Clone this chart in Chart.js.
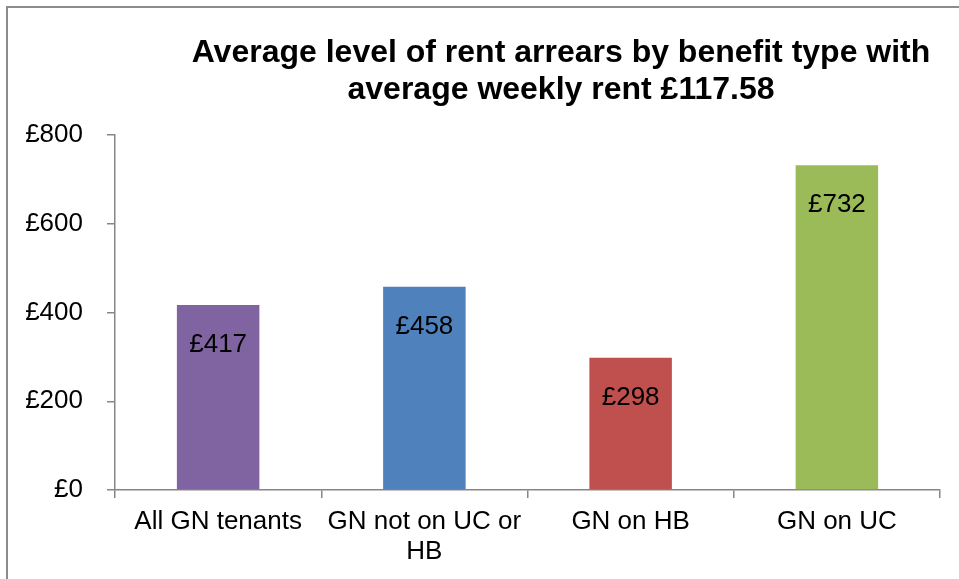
<!DOCTYPE html>
<html>
<head>
<meta charset="utf-8">
<script src="https://cdn.jsdelivr.net/npm/chart.js@4"></script>
<style>
  html, body { margin: 0; padding: 0; background: #fff; }
  #wrap { position: relative; width: 959px; height: 579px; overflow: hidden; }
  #frame { position: absolute; left: 6px; top: 6px; width: 1000px; height: 1000px; border-left: 2px solid #8c8c8c; border-top: 2px solid #8c8c8c; box-sizing: border-box; }
  #title { position: absolute; left: 161px; width: 800px; top: 33px; text-align: center; font: bold 32px "Liberation Sans", Arial, sans-serif; line-height: 37px; color: #000; white-space: nowrap; }
  canvas { position: absolute; left: 0; top: 0; }
</style>
</head>
<body>
<div id="wrap">
  <div id="frame"></div>
  <canvas id="c" width="959" height="579"></canvas>
  <div id="title">Average level of rent arrears by benefit type with<br>average weekly rent £117.58</div>
</div>
<script>
const categories = ['All GN tenants', ['GN not on UC or', 'HB'], 'GN on HB', 'GN on UC'];
const arrears = [417, 458, 298, 732];
const barColors = ['#8064A2', '#4F81BD', '#C0504D', '#9BBB59'];
const yTicks = [0, 200, 400, 600, 800];

const FONT = '"Liberation Sans", Arial, sans-serif';
const axisColor = '#868686';

const valueLabels = {
  id: 'valueLabels',
  afterDatasetsDraw(chart) {
    const ctx = chart.ctx;
    const meta = chart.getDatasetMeta(0);
    ctx.save();
    ctx.font = '26px ' + FONT;
    ctx.fillStyle = '#000';
    ctx.textAlign = 'center';
    ctx.textBaseline = 'middle';
    meta.data.forEach((bar, i) => {
      ctx.fillText('£' + arrears[i], bar.x, bar.y + 40);
    });
    ctx.restore();
  }
};

new Chart(document.getElementById('c'), {
  type: 'bar',
  data: {
    labels: categories,
    datasets: [{
      data: arrears,
      backgroundColor: barColors,
      borderWidth: 0,
      barPercentage: 0.5,
      categoryPercentage: 0.8
    }]
  },
  options: {
    responsive: false,
    animation: false,
    layout: { padding: { top: 135, right: 19, left: 0, bottom: 0 } },
    plugins: { legend: { display: false }, title: { display: false }, tooltip: { enabled: false } },
    scales: {
      x: {
        grid: { display: true, drawOnChartArea: false, drawTicks: true, tickLength: 8, color: axisColor, lineWidth: 1.5, offset: true },
        border: { display: true, color: axisColor, width: 1.5 },
        ticks: { color: '#000', font: { family: FONT, size: 26, lineHeight: 1.15 }, padding: 9, maxRotation: 0, autoSkip: false },
        afterFit(scale) { scale.height = 89; }
      },
      y: {
        min: 0, max: 800,
        afterBuildTicks(scale) { scale.ticks = yTicks.map(v => ({ value: v })); },
        grid: { display: true, drawOnChartArea: false, drawTicks: true, tickLength: 8, color: axisColor, lineWidth: 1.5 },
        border: { display: true, color: axisColor, width: 1.5 },
        ticks: { color: '#000', font: { family: FONT, size: 26 }, padding: 24, callback: v => '£' + v },
        afterFit(scale) { scale.width = 115; }
      }
    }
  },
  plugins: [valueLabels]
});
</script>
</body>
</html>
